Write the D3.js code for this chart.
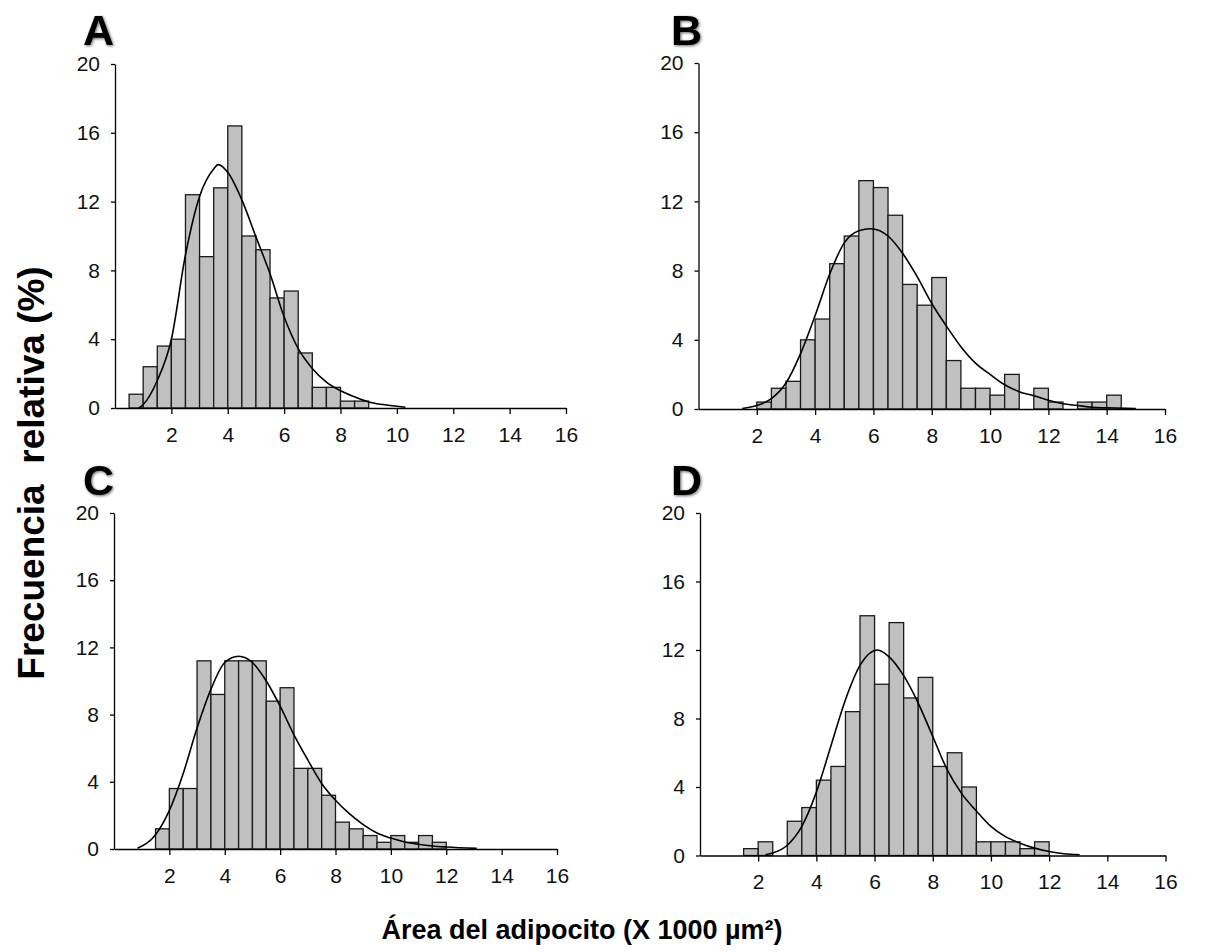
<!DOCTYPE html>
<html><head><meta charset="utf-8">
<script src="https://cdn.jsdelivr.net/npm/d3@7"></script>
<style>
body{margin:0;background:#fff}
svg{display:block}
text{font-family:"Liberation Sans",Arial,sans-serif}
</style>
</head><body>
<svg id="chart" width="1215" height="952"></svg>
<script>
// ---------- data ----------
const xTicks = [2, 4, 6, 8, 10, 12, 14, 16];
const yTicks = [0, 4, 8, 12, 16, 20];
const binWidth = 0.5;

const labelA = "A", binStartA = 0.5;
const freqA = [0.8, 2.4, 3.6, 4.0, 12.4, 8.8, 12.8, 16.4, 10.0, 9.2, 6.4, 6.8, 3.2, 1.2, 1.2, 0.4, 0.4];
const curveA = [[0.85,0],[1,0.2],[1.5,1.6],[2,4.0],[2.5,8.9],[3,12.3],[3.5,13.9],[3.66,14.15],[4,13.7],[4.5,12.1],[5,9.95],[5.5,7.8],[6,5.3],[6.5,3.45],[7,2.3],[7.5,1.5],[8,1.0],[8.5,0.65],[9,0.35],[9.5,0.2],[10,0.1],[10.3,0.04]];

const labelB = "B", binStartB = 2.0;
const freqB = [0.4, 1.2, 1.6, 4.0, 5.2, 8.4, 10.0, 13.2, 12.8, 11.2, 7.2, 6.0, 7.6, 2.8, 1.2, 1.2, 0.8, 2.0, 0, 1.2, 0.4, 0, 0.4, 0.4, 0.8];
const curveB = [[1.5,0.03],[2,0.2],[2.5,0.6],[3,1.5],[3.5,3.2],[4,5.4],[4.5,7.8],[5,9.6],[5.5,10.3],[5.9,10.42],[6.5,10.0],[7,9.0],[7.5,7.65],[8,6.1],[8.5,4.8],[9,3.6],[9.5,2.65],[10,2.0],[10.5,1.4],[11,1.0],[11.5,0.77],[12,0.5],[12.5,0.3],[13,0.2],[13.5,0.1],[14,0.07],[15,0.03]];

const labelC = "C", binStartC = 1.5;
const freqC = [1.2, 3.6, 3.6, 11.2, 9.2, 11.2, 11.2, 11.2, 8.8, 9.6, 4.8, 4.8, 3.2, 1.6, 1.2, 0.8, 0.4, 0.8, 0.4, 0.8, 0.4];
const curveC = [[0.85,0.04],[1.5,0.85],[2,2.3],[2.5,4.5],[3,7.2],[3.5,9.5],[4,11.1],[4.5,11.47],[5,11.1],[5.5,10.0],[6,8.5],[6.5,6.8],[7,5.3],[7.5,3.9],[8,2.9],[8.5,2.1],[9,1.45],[9.5,0.95],[10,0.65],[10.5,0.42],[11,0.28],[11.5,0.18],[12,0.12],[13.1,0.04]];

const labelD = "D", binStartD = 1.5;
const freqD = [0.4, 0.8, 0, 2.0, 2.8, 4.4, 5.2, 8.4, 14.0, 10.0, 13.6, 9.2, 10.4, 5.2, 6.0, 4.0, 0.8, 0.8, 0.8, 0.4, 0.8];
const curveD = [[2.25,0.04],[2.5,0.14],[3,0.6],[3.5,1.7],[4,3.7],[4.5,6.4],[5,9.1],[5.5,11.1],[6.1,12.0],[6.5,11.6],[7,10.5],[7.5,8.9],[8,6.95],[8.5,5.0],[9,3.6],[9.5,2.6],[10,1.7],[10.5,1.1],[11,0.72],[11.5,0.43],[12,0.23],[12.5,0.1],[13.05,0.04]];

const yTitle = "Frecuencia\u00A0\u00A0relativa (%)";
const xTitle = "Área del adipocito (X 1000 µm²)";

// ---------- layout ----------
const panels = [
  {label: labelA, start: binStartA, freq: freqA, curve: curveA, x0: 115, x1: 566, y0: 408, y1: 64, lx: 83, ly: 45},
  {label: labelB, start: binStartB, freq: freqB, curve: curveB, x0: 698.5, x1: 1165, y0: 409, y1: 63, lx: 671, ly: 45},
  {label: labelC, start: binStartC, freq: freqC, curve: curveC, x0: 114, x1: 557, y0: 849, y1: 513, lx: 83, ly: 495},
  {label: labelD, start: binStartD, freq: freqD, curve: curveD, x0: 700, x1: 1165.5, y0: 855.5, y1: 513, lx: 671, ly: 495}
];

const svg = d3.select("#chart");
const defs = svg.append("defs");
const f = defs.append("filter").attr("id", "soft").attr("x", "-20%").attr("y", "-20%").attr("width", "140%").attr("height", "140%");
f.append("feGaussianBlur").attr("in", "SourceAlpha").attr("stdDeviation", 1.6).attr("result", "b");
f.append("feOffset").attr("in", "b").attr("dx", 1).attr("dy", 1).attr("result", "o");
f.append("feComponentTransfer").attr("in", "o").attr("result", "o2")
  .append("feFuncA").attr("type", "linear").attr("slope", 0.6);
const fm = f.append("feMerge");
fm.append("feMergeNode").attr("in", "o2");
fm.append("feMergeNode").attr("in", "SourceGraphic");

panels.forEach(p => {
  const x = d3.scaleLinear().domain([0, 16]).range([p.x0, p.x1]);
  const y = d3.scaleLinear().domain([0, 20]).range([p.y0, p.y1]);
  const g = svg.append("g");

  const bins = p.freq.map((v, i) => ({a: p.start + i * binWidth, v}));
  g.selectAll("rect.bar").data(bins.filter(d => d.v > 0)).join("rect")
    .attr("class", "bar")
    .attr("x", d => x(d.a))
    .attr("width", d => x(d.a + binWidth) - x(d.a))
    .attr("y", d => y(d.v))
    .attr("height", d => y(0) - y(d.v))
    .attr("fill", "#c0c0c0")
    .attr("stroke", "#1a1a1a")
    .attr("stroke-width", 1.3);

  const line = d3.line().x(d => x(d[0])).y(d => y(d[1])).curve(d3.curveMonotoneX);
  g.append("path").datum(p.curve).attr("d", line)
    .attr("fill", "none").attr("stroke", "#000").attr("stroke-width", 1.6);

  const xa = g.append("g").attr("transform", `translate(0,${p.y0})`)
    .call(d3.axisBottom(x).tickValues(xTicks).tickSize(6).tickSizeOuter(0).tickPadding(13));
  const ya = g.append("g").attr("transform", `translate(${p.x0},0)`)
    .call(d3.axisLeft(y).tickValues(yTicks).tickSize(4).tickSizeOuter(0).tickPadding(11));
  [xa, ya].forEach(a => {
    a.selectAll("path, line").attr("stroke", "#000").attr("stroke-width", 1.3);
    a.selectAll("text").attr("font-size", 21).attr("fill", "#111")
      .attr("font-family", "'Liberation Sans', Arial, sans-serif");
  });

  svg.append("text").attr("x", p.lx).attr("y", p.ly).text(p.label)
    .attr("font-size", 43).attr("font-weight", "bold").attr("fill", "#000")
    .attr("filter", "url(#soft)");
});

svg.append("text")
  .attr("transform", "translate(44,473) rotate(-90)")
  .attr("text-anchor", "middle")
  .attr("font-size", 37).attr("font-weight", "bold").attr("fill", "#000")
  .text(yTitle);

svg.append("text")
  .attr("x", 582).attr("y", 939)
  .attr("text-anchor", "middle")
  .attr("font-size", 27).attr("font-weight", "bold").attr("fill", "#000")
  .text(xTitle);
</script>
</body></html>
